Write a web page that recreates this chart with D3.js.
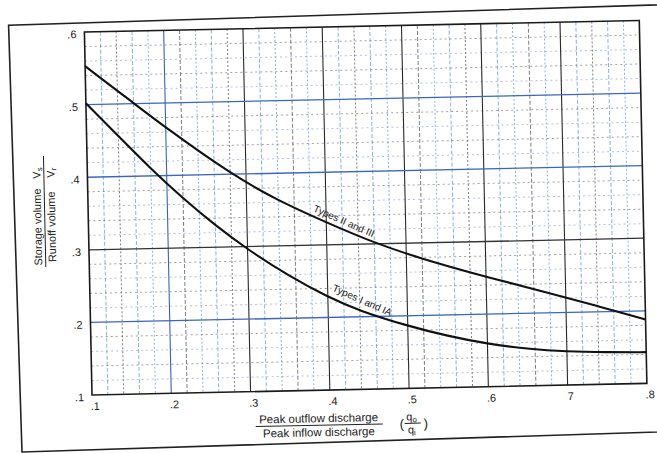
<!DOCTYPE html>
<html>
<head>
<meta charset="utf-8">
<script src="https://cdn.jsdelivr.net/npm/d3@7"></script>
<style>
  body { margin: 0; background: #fff; }
  svg { display: block; font-family: "Liberation Sans", Arial, sans-serif; }
</style>
</head>
<body>
<div id="chart"></div>
<script>
// values
const lowerX = [.1, .14, .18, .22, .26, .3, .35, .4, .44, .5, .55, .6, .65, .7, .75, .8];
const typesIandIA = [.502, .456, .41, .368, .33, .296, .259, .228, .208, .186, .171, .159, .151, .146, .144, .143];
const upperX = [.1, .16, .2, .28, .34, .4, .45, .51, .61, .68, .74, .8];
const typesIIandIII = [.553, .501, .466, .401, .362, .331, .306, .281, .248, .227, .208, .188];

const xTicks = [.1, .2, .3, .4, .5, .6, .7, .8];
const xTickLabels = [".1", ".2", ".3", ".4", ".5", ".6", "7", ".8"];
const yTicks = [.1, .2, .3, .4, .5, .6];
const yTickLabels = [".1", ".2", ".3", ".4", ".5", ".6"];
const blueMajorsY = [.2, .4, .5];

const width = 657, height = 453;
const x0 = 92, y0 = 395, plotW = 555, plotH = 363;

const x = d3.scaleLinear().domain([.1, .8]).range([x0, x0 + plotW]);
const y = d3.scaleLinear().domain([.1, .6]).range([y0, y0 - plotH]);

const svg = d3.select("#chart").append("svg")
  .attr("width", width)
  .attr("height", height);

// outer border of the scanned page (tilted a bit more than the plot)
svg.append("rect")
  .attr("x", 22).attr("y", 25)
  .attr("width", 720).attr("height", 427)
  .attr("fill", "none")
  .attr("stroke", "#222")
  .attr("stroke-width", 1.6)
  .attr("transform", "rotate(-1.8, 22, 452)");

// the whole figure is slightly rotated in the scan
const g = svg.append("g").attr("transform", `rotate(-1.2, ${x0}, ${y0})`);

// minor grid, every .02
const isMajor = v => Math.abs(v * 10 - Math.round(v * 10)) < 1e-6;
const minorX = d3.range(6, 40).map(i => +(i * .02).toFixed(2)).filter(v => v > .1 && v < .8 && !isMajor(v));
const minorY = d3.range(6, 30).map(i => +(i * .02).toFixed(2)).filter(v => v > .1 && v < .6 && !isMajor(v));

g.append("g").selectAll("line")
  .data(minorX)
  .join("line")
  .attr("x1", d => x(d)).attr("x2", d => x(d))
  .attr("y1", y(.6)).attr("y2", y(.1))
  .attr("stroke", (d, i) => i % 3 === 1 ? "#555" : "#6d93d8")
  .attr("stroke-width", 1)
  .attr("stroke-dasharray", (d, i) => i % 2 ? "2,2" : "4,2")
  .attr("opacity", 0.75);

g.append("g").selectAll("line")
  .data(minorY)
  .join("line")
  .attr("x1", x(.1)).attr("x2", x(.8))
  .attr("y1", d => y(d)).attr("y2", d => y(d))
  .attr("stroke", (d, i) => i % 2 ? "#666" : "#7e9bd0")
  .attr("stroke-width", 1)
  .attr("stroke-dasharray", "2,3")
  .attr("opacity", 0.6);

// major grid at .1
g.append("g").selectAll("line")
  .data(xTicks.slice(1, -1))
  .join("line")
  .attr("x1", d => x(d)).attr("x2", d => x(d))
  .attr("y1", y(.6)).attr("y2", y(.1))
  .attr("stroke", d => d === .2 ? "#3a62b8" : "#2a2a2a")
  .attr("stroke-width", 1.1);

g.append("g").selectAll("line")
  .data(yTicks.slice(1, -1))
  .join("line")
  .attr("x1", x(.1)).attr("x2", x(.8))
  .attr("y1", d => y(d)).attr("y2", d => y(d))
  .attr("stroke", d => blueMajorsY.includes(d) ? "#3a66c4" : "#333")
  .attr("stroke-width", 1.3);

// plot frame
g.append("rect")
  .attr("x", x(.1)).attr("y", y(.6))
  .attr("width", x(.8) - x(.1)).attr("height", y(.1) - y(.6))
  .attr("fill", "none")
  .attr("stroke", "#1a1a1a")
  .attr("stroke-width", 1.6);

// curves
const line = d3.line()
  .x(d => x(d[0]))
  .y(d => y(d[1]))
  .curve(d3.curveBasis);

g.append("path")
  .datum(d3.zip(upperX, typesIIandIII))
  .attr("d", line)
  .attr("fill", "none")
  .attr("stroke", "#111")
  .attr("stroke-width", 2.1);

g.append("path")
  .datum(d3.zip(lowerX, typesIandIA))
  .attr("d", line)
  .attr("fill", "none")
  .attr("stroke", "#111")
  .attr("stroke-width", 2.1);

// curve labels
g.append("text")
  .attr("transform", `translate(${x(.383)},${y(.347)}) rotate(25)`)
  .attr("font-size", 10)
  .attr("fill", "#222")
  .text("Types II and III");

g.append("text")
  .attr("transform", `translate(${x(.405)},${y(.237)}) rotate(25)`)
  .attr("font-size", 10)
  .attr("fill", "#222")
  .text("Types I and IA");

// tick labels
g.append("g").selectAll("text")
  .data(xTicks)
  .join("text")
  .attr("x", d => x(d) + 3)
  .attr("y", y0 + 15)
  .attr("text-anchor", "middle")
  .attr("font-size", 11)
  .attr("fill", "#222")
  .text((d, i) => xTickLabels[i]);

g.append("g").selectAll("text")
  .data(yTicks)
  .join("text")
  .attr("x", x0 - 8)
  .attr("y", d => y(d) + 6)
  .attr("text-anchor", "end")
  .attr("font-size", 11)
  .attr("fill", "#222")
  .text((d, i) => yTickLabels[i]);

// x axis title: fraction
g.append("text")
  .attr("x", 318).attr("y", 427)
  .attr("text-anchor", "middle")
  .attr("font-size", 11.5)
  .attr("fill", "#222")
  .text("Peak outflow discharge");
g.append("line")
  .attr("x1", 255).attr("x2", 382)
  .attr("y1", 430).attr("y2", 430)
  .attr("stroke", "#222").attr("stroke-width", 1);
g.append("text")
  .attr("x", 318).attr("y", 441)
  .attr("text-anchor", "middle")
  .attr("font-size", 11.5)
  .attr("fill", "#222")
  .text("Peak inflow discharge");

g.append("text").attr("x", 399).attr("y", 435).attr("font-size", 13).attr("fill", "#222").text("(");
g.append("text").attr("x", 423).attr("y", 435).attr("font-size", 13).attr("fill", "#222").text(")");
const qo = g.append("text").attr("x", 411).attr("y", 427).attr("text-anchor", "middle").attr("font-size", 11).attr("fill", "#222");
qo.append("tspan").text("q");
qo.append("tspan").attr("font-size", 8).attr("dy", 2).text("o");
g.append("line")
  .attr("x1", 404).attr("x2", 420)
  .attr("y1", 430).attr("y2", 430)
  .attr("stroke", "#222").attr("stroke-width", 1);
const qi = g.append("text").attr("x", 411).attr("y", 440).attr("text-anchor", "middle").attr("font-size", 11).attr("fill", "#222");
qi.append("tspan").text("q");
qi.append("tspan").attr("font-size", 8).attr("dy", 2).text("i");

// y axis title: fraction, rotated
const yt = g.append("g");
yt.append("text")
  .attr("transform", "translate(45,226) rotate(-90)")
  .attr("text-anchor", "middle")
  .attr("font-size", 11)
  .attr("fill", "#222")
  .text("Storage volume");
yt.append("line")
  .attr("x1", 48.5).attr("x2", 48.5)
  .attr("y1", 155).attr("y2", 266)
  .attr("stroke", "#222").attr("stroke-width", 1);
yt.append("text")
  .attr("transform", "translate(59,226) rotate(-90)")
  .attr("text-anchor", "middle")
  .attr("font-size", 11)
  .attr("fill", "#222")
  .text("Runoff volume");

const vs = yt.append("text")
  .attr("transform", "translate(45,172) rotate(-90)")
  .attr("text-anchor", "middle")
  .attr("font-size", 11)
  .attr("fill", "#222");
vs.append("tspan").text("V");
vs.append("tspan").attr("font-size", 8).attr("dy", 2).text("s");
const vr = yt.append("text")
  .attr("transform", "translate(59,172) rotate(-90)")
  .attr("text-anchor", "middle")
  .attr("font-size", 11)
  .attr("fill", "#222");
vr.append("tspan").text("V");
vr.append("tspan").attr("font-size", 8).attr("dy", 2).text("r");
</script>
</body>
</html>
